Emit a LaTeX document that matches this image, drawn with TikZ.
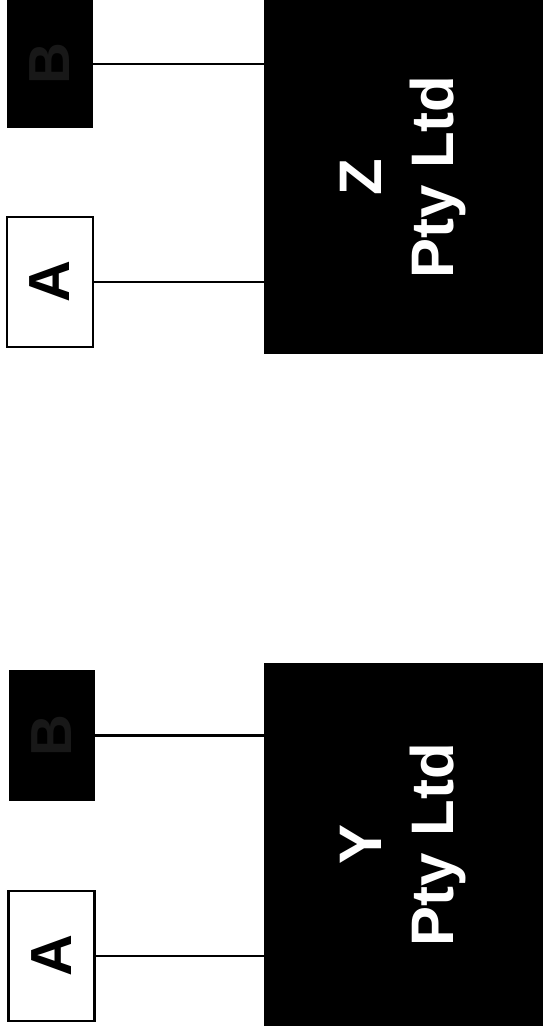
\documentclass[tikz,border=0pt]{standalone}
\usepackage{fontspec}
\setmainfont{Liberation Sans}
\usepackage{graphicx}
\definecolor{faintB}{RGB}{24,24,24}
\tikzset{
  smallbox/.style={rectangle, inner sep=0pt, minimum width=86pt, minimum height=130pt,
    font=\fontsize{58}{70}\selectfont\bfseries},
  whitebox/.style={smallbox, draw=black, line width=2.5pt, fill=white, text=black},
  blackbox/.style={smallbox, fill=black, text=faintB},
  company/.style={rectangle, inner sep=0pt, fill=black, text=white, minimum width=279pt,
    font=\fontsize{60}{72}\selectfont\bfseries},
  link/.style={draw=black, line width=2.5pt}
}
\begin{document}
\begin{tikzpicture}[x=1pt,y=-1pt]
\useasboundingbox (0,0) rectangle (543,1035);
\fill[white] (0,0) rectangle (543,1035);
% top group
\node[company, minimum height=354pt] (z) at (403.5,177) {\rotatebox{90}{\begin{tabular}{@{}c@{}}Z\\Pty Ltd\end{tabular}}};
\node[blackbox, minimum height=128pt] (b1) at (50,64) {\rotatebox{90}{B}};
\node[whitebox] (a1) at (50,282) {\rotatebox{90}{A}};
\draw[link] (b1.east) -- (z.west |- b1.east);
\draw[link] (a1.east) -- (z.west |- a1.east);
% bottom group
\node[company, minimum height=363pt] (y) at (403.5,844.5) {\rotatebox{90}{\begin{tabular}{@{}c@{}}Y\\Pty Ltd\end{tabular}}};
\node[blackbox, minimum height=131pt] (b2) at (52,735.5) {\rotatebox{90}{B}};
\node[whitebox] (a2) at (51.5,956) {\rotatebox{90}{A}};
\draw[link] (b2.east) -- (y.west |- b2.east);
\draw[link] (a2.east) -- (y.west |- a2.east);
\end{tikzpicture}
\end{document}
